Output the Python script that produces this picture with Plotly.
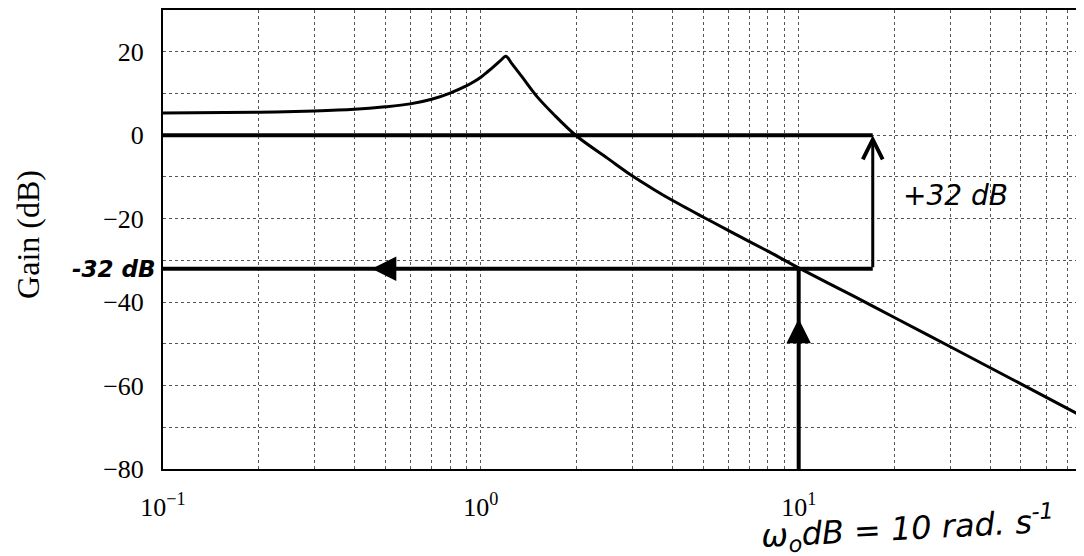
import math
import plotly.graph_objects as go

# ---- data ----
omega = [0.1, 0.2, 0.3, 0.4, 0.5, 0.6, 0.7, 0.8, 0.9, 0.95, 1.0, 1.05, 1.1, 1.15, 1.2,
         1.25, 1.35, 1.5, 1.7, 2.0, 2.5, 3, 3.5, 4, 5, 6, 7, 8, 10, 15, 20, 30, 50, 80]
gain_db = [5.3, 5.5, 5.8, 6.2, 6.8, 7.5, 8.6, 10.1, 11.8, 12.8, 13.9, 15.2, 16.5, 17.8, 18.9,
           17.2, 13.9, 9.3, 4.9, -0.2, -5.5, -9.8, -13.0, -15.6, -19.6, -22.8, -25.5,
           -27.8, -31.8, -38.7, -43.7, -50.7, -59.6, -67.8]

w_0dB = 10.0          # crossover read on the graph
gain_at_w0 = -32.0    # gain read at w_0dB
w_arrow = 17.1        # where the +32 dB arrow is drawn
w_left_arrow = 0.454  # left-pointing arrowhead on the -32 dB line
gain_up_arrow = -44.0 # upward arrowhead on the w=10 line

x_ticks = [0.1, 0.2, 0.3, 0.4, 0.5, 0.6, 0.7, 0.8, 0.9,
           1, 2, 3, 4, 5, 6, 7, 8, 9,
           10, 20, 30, 40, 50, 60, 70, 80]
x_labels = {0.1: "10<sup>−1</sup>", 1: "10<sup>0</sup>", 10: "10<sup>1</sup>"}
y_ticks = [-80, -70, -60, -50, -40, -30, -20, -10, 0, 10, 20, 30]
y_labels = {20: "20", 0: "0", -20: "−20", -40: "−40", -60: "−60", -80: "−80"}

x_min, x_max = 0.1, 79.0
y_min, y_max = -80, 30

SERIF = "Liberation Serif"
HAND = "DejaVu Sans"

fig = go.Figure()

# Bode gain curve
fig.add_trace(go.Scatter(x=omega, y=gain_db, mode="lines",
                         line=dict(color="black", width=3, shape="spline", smoothing=0.9),
                         hoverinfo="skip"))

# 0 dB reference line
fig.add_trace(go.Scatter(x=[x_min, w_arrow], y=[0, 0], mode="lines",
                         line=dict(color="black", width=4), hoverinfo="skip"))
# -32 dB line
fig.add_trace(go.Scatter(x=[x_min, w_arrow], y=[gain_at_w0, gain_at_w0], mode="lines",
                         line=dict(color="black", width=4), hoverinfo="skip"))
# vertical line at w_0dB
fig.add_trace(go.Scatter(x=[w_0dB, w_0dB], y=[y_min, gain_at_w0], mode="lines",
                         line=dict(color="black", width=4), hoverinfo="skip"))

annotations = []
# +32 dB arrow (vertical, tip at 0 dB)
annotations.append(dict(x=math.log10(w_arrow), y=0, ax=math.log10(w_arrow), ay=gain_at_w0,
                        xref="x", yref="y", axref="x", ayref="y", text="",
                        showarrow=True, arrowhead=5, arrowsize=1.3, arrowwidth=3,
                        arrowcolor="black", standoff=0, startstandoff=0))
# left-pointing arrowhead on the -32 dB line
annotations.append(dict(x=math.log10(w_left_arrow), y=gain_at_w0,
                        ax=math.log10(w_left_arrow * 1.2), ay=gain_at_w0,
                        xref="x", yref="y", axref="x", ayref="y", text="",
                        showarrow=True, arrowhead=2, arrowsize=1.4, arrowwidth=3.5,
                        arrowcolor="black", standoff=0))
# upward arrowhead on the w_0dB line
annotations.append(dict(x=math.log10(w_0dB), y=gain_up_arrow,
                        ax=math.log10(w_0dB), ay=gain_up_arrow - 6,
                        xref="x", yref="y", axref="x", ayref="y", text="",
                        showarrow=True, arrowhead=2, arrowsize=1.4, arrowwidth=3.5,
                        arrowcolor="black", standoff=0))

# y-axis title
annotations.append(dict(text="Gain (dB)", xref="paper", yref="paper",
                        x=(28 - 163) / 921, y=0.51, textangle=-90, showarrow=False,
                        font=dict(family=SERIF, size=32, color="black"),
                        xanchor="center", yanchor="middle"))
# handwritten labels
annotations.append(dict(text="<b><i>-32 dB</i></b>", xref="paper", yref="y",
                        x=(114 - 163) / 921, y=gain_at_w0, showarrow=False,
                        font=dict(family=HAND, size=23, color="black"),
                        xanchor="center", yanchor="middle"))
annotations.append(dict(text="<i>+32 dB</i>", xref="x", yref="y",
                        x=math.log10(21.0), y=-14.5, showarrow=False,
                        font=dict(family=HAND, size=28, color="black"),
                        xanchor="left", yanchor="middle"))
annotations.append(dict(text="<i>ω<sub>o</sub>dB = 10 rad. s<sup>-1</sup></i>",
                        xref="paper", yref="paper",
                        x=(907 - 163) / 921, y=(469 - 528) / 459, showarrow=False,
                        textangle=-3,
                        font=dict(family=HAND, size=32, color="black"),
                        xanchor="center", yanchor="middle"))

# page body has an 8 px margin: figure sized/offset so the plot area sits at
# x 163..1084, y 10..469 of the window
fig.update_layout(
    width=1076, height=548,
    margin=dict(l=155, r=0, t=2, b=87),
    paper_bgcolor="white", plot_bgcolor="white",
    showlegend=False,
    annotations=annotations,
    font=dict(family=SERIF, color="black"),
)

fig.update_xaxes(
    type="log", range=[math.log10(x_min), math.log10(x_max)],
    tickvals=x_ticks, ticktext=[x_labels.get(v, "") for v in x_ticks],
    tickfont=dict(family=SERIF, size=26, color="black"),
    ticks="outside", ticklen=14, tickcolor="rgba(0,0,0,0)",
    showgrid=True, gridcolor="#555555", griddash="dot", gridwidth=1,
    showline=True, linecolor="black", linewidth=2, mirror=True,
    zeroline=False,
)
fig.update_yaxes(
    range=[y_min, y_max],
    tickvals=y_ticks, ticktext=[y_labels.get(v, "") for v in y_ticks],
    tickfont=dict(family=SERIF, size=26, color="black"),
    ticks="outside", ticklen=12, tickcolor="rgba(0,0,0,0)",
    showgrid=True, gridcolor="#555555", griddash="dot", gridwidth=1,
    showline=True, linecolor="black", linewidth=2, mirror=False,
    zeroline=False,
)

fig.write_html("out.html")
